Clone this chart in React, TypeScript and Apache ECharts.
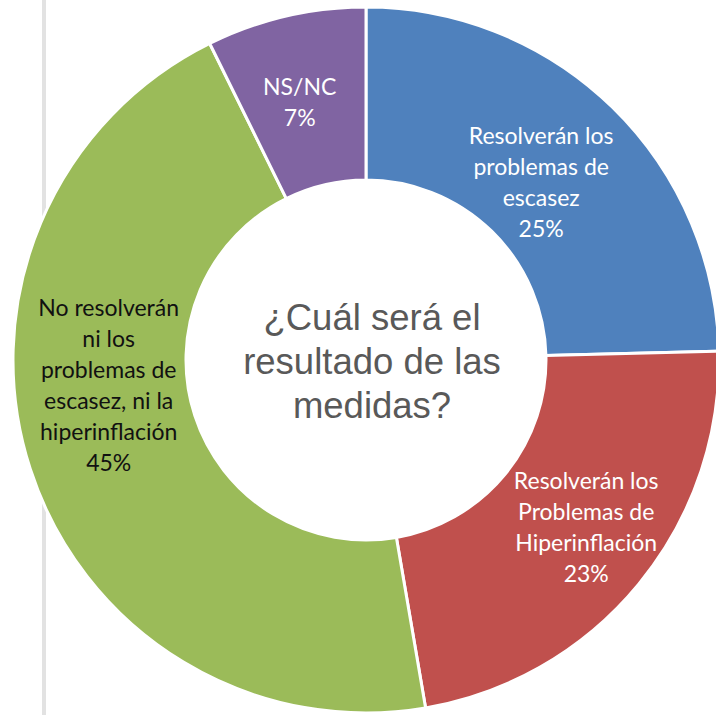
import React, { useEffect, useRef } from "react";
import * as echarts from "echarts";

const categories = [
  "Resolverán los\nproblemas de\nescasez",
  "Resolverán los\nProblemas de\nHiperinflación",
  "No resolverán\nni los\nproblemas de\nescasez, ni la\nhiperinflación",
  "NS/NC",
];
// shares; labels show them rounded
const values = [24.6, 22.7, 45.4, 7.3];
const colors = ["#4F81BD", "#C0504D", "#9BBB59", "#8064A2"];
const labelColors = ["#ffffff", "#ffffff", "#111111", "#ffffff"];
const centerTitle = "¿Cuál será el\nresultado de las\nmedidas?";

export default function App() {
  const ref = useRef<HTMLDivElement>(null);
  useEffect(() => {
    if (!ref.current) return;
    const chart = echarts.init(ref.current, null, { renderer: "svg" });
    const nudges: Record<number, { dx: number; dy: number }> = {
      0: { dx: -13, dy: 14 },
      1: { dx: 12, dy: -5 },
      2: { dx: -1, dy: -59 },
      3: { dx: -5, dy: 4 },
    };
    chart.setOption({
      animation: false,
      backgroundColor: "#ffffff",
      graphic: [
        {
          type: "rect",
          shape: { x: 42, y: 0, width: 4, height: 715 },
          style: { fill: "#e2e2e2" },
          silent: true,
        },
        {
          type: "text",
          x: 372,
          y: 361,
          z: 10,
          style: {
            text: centerTitle,
            fill: "#595959",
            font: "36.5px 'Liberation Sans', Arial, sans-serif",
            lineHeight: 44,
            align: "center",
            verticalAlign: "middle",
          },
        },
      ],
      series: [
        {
          type: "pie",
          center: [366, 360],
          radius: [180, 353],
          startAngle: 90,
          clockwise: true,
          percentPrecision: 0,
          avoidLabelOverlap: false,
          itemStyle: { borderColor: "#ffffff", borderWidth: 3 },
          label: {
            show: true,
            position: "inside",
            formatter: "{b}\n{d}%",
            fontFamily: "Lato, 'Open Sans', sans-serif",
            fontSize: 23,
            lineHeight: 31,
            align: "center",
          },
          labelLine: { show: false },
          emphasis: { disabled: true },
          labelLayout: (params: any) => nudges[params.dataIndex] || {},
          data: categories.map((name, i) => ({
            name,
            value: values[i],
            itemStyle: { color: colors[i] },
            label: { color: labelColors[i] },
          })),
        },
      ],
    });
    return () => chart.dispose();
  }, []);
  return (
    <div
      ref={ref}
      style={{ position: "fixed", left: 0, top: 0, width: 716, height: 715 }}
    />
  );
}
